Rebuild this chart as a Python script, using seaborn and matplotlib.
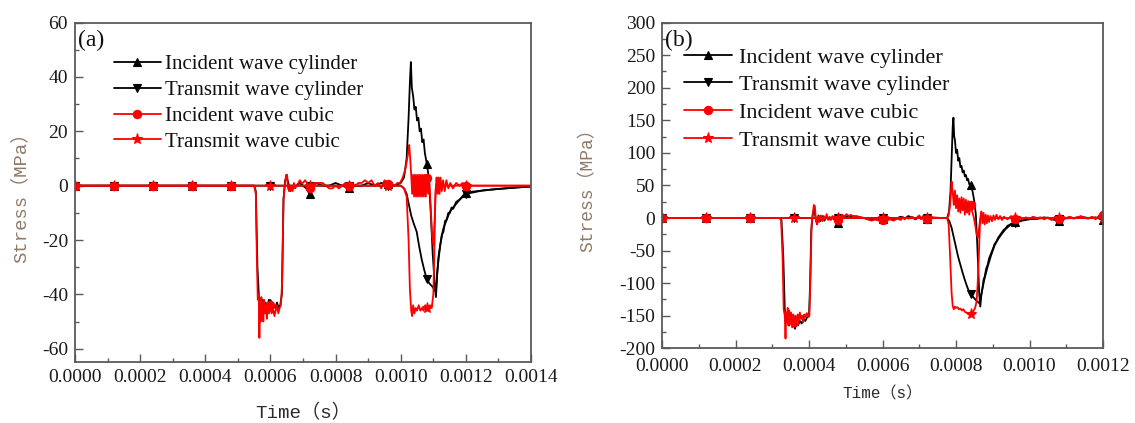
import numpy as np
import matplotlib
matplotlib.use("Agg")
import matplotlib.pyplot as plt
from matplotlib.ticker import MultipleLocator, FormatStrFormatter
import seaborn as sns

# ---------------- data: (time in microseconds, stress in MPa) ----------------
# Panel (a)
INC_CYL_A = [(0, 0), (120, 0), (240, 0), (360, 0), (480, 0), (550, 0), (555, -2), (560, -30),
             (565, -42), (570, -45), (575, -42), (580, -46), (585, -43), (590, -45), (595, -42),
             (600, -43), (605, -46), (610, -44), (615, -45), (620, -43), (625, -45), (630, -44),
             (635, -40), (640, -5), (645, 2), (650, 3), (655, 1), (660, -2), (670, -1), (680, 0),
             (690, 1), (700, 0), (710, -1), (720, -3), (730, 0), (740, 1), (760, 0), (780, 0),
             (800, 1), (820, 0), (840, -1), (860, 0), (880, 0), (900, 1), (920, 0), (940, 1),
             (960, 0.5), (980, 0), (1000, 1), (1010, 3), (1018, 10), (1024, 25), (1028, 38),
             (1031, 45.5), (1034, 36), (1038, 33), (1042, 28), (1046, 29), (1050, 24), (1054, 25),
             (1058, 20), (1062, 21), (1066, 16), (1070, 17), (1074, 12), (1080, 8), (1086, 3),
             (1092, -10), (1098, -25), (1104, -36), (1108, -41), (1112, -32), (1116, -26),
             (1121, -22), (1126, -18), (1131, -17), (1136, -13), (1141, -12.5), (1146, -10),
             (1151, -10), (1156, -8), (1161, -8.5), (1170, -6), (1182, -5), (1192, -3.5),
             (1200, -2.8), (1220, -2.2), (1250, -1.8), (1280, -1.4), (1320, -1), (1360, -0.6),
             (1400, -0.3)]

TRA_CYL_A = [(0, 0), (120, 0), (240, 0), (360, 0), (480, 0), (600, 0), (720, 0), (840, 0),
             (960, 0), (1000, 0), (1010, -1), (1018, -3), (1025, -7), (1032, -11), (1040, -14),
             (1049, -17), (1056, -22), (1064, -27), (1072, -31), (1080, -34.5), (1088, -36),
             (1096, -37), (1102, -38), (1108, -39), (1112, -32), (1116, -27), (1121, -22),
             (1130, -16), (1141, -12.5), (1151, -9.5), (1161, -8), (1182, -5), (1200, -3),
             (1250, -1.8), (1300, -1.2), (1400, -0.3)]

INC_CUB_A = [(0, 0), (120, 0), (240, 0), (360, 0), (480, 0), (550, 0), (555, -3), (558, -25),
             (561, -42), (564, -40), (566, -56), (568, -42), (570, -50), (572, -41), (574, -48),
             (576, -43), (578, -50), (580, -42), (583, -47), (586, -44), (589, -49), (592, -45),
             (596, -47), (600, -44), (604, -47), (608, -45), (612, -48), (616, -46), (620, -44),
             (624, -47), (628, -45), (632, -44), (636, -35), (640, -5), (645, 1), (648, 4),
             (651, 4), (654, -1), (657, -2), (660, -2), (664, 0), (668, -2), (672, 1), (676, -1),
             (680, 0), (686, 1), (690, 2), (696, 1), (700, 1), (706, 2), (712, 1), (720, -1),
             (726, 0), (732, 1), (740, 1), (750, 1), (760, 1), (770, 0), (780, -1), (790, -1),
             (800, 0), (810, -1), (820, 0), (830, 1), (840, 0), (850, 1), (860, 0), (870, 1),
             (880, 1), (890, 2), (900, 1), (910, 2), (920, 0), (930, 1), (940, -1), (950, 2),
             (960, 0.5), (970, 1), (980, 0), (990, 1), (998, 1), (1006, 3), (1014, 6),
             (1020, 10), (1024, 13), (1026, 15), (1029, 10), (1032, 4), (1035, -3), (1038, 4),
             (1041, -4), (1044, 4), (1047, -4), (1050, 4), (1053, -4), (1056, 4), (1059, -4),
             (1062, 4), (1065, -4), (1068, 4), (1071, -4), (1074, 4), (1077, -4), (1080, 3),
             (1084, -3), (1088, 1), (1092, -8), (1096, -18), (1100, -22), (1104, -12),
             (1107, -2), (1110, 3), (1113, -3), (1116, 3), (1119, -3), (1122, 3), (1126, -2),
             (1130, 2), (1135, -2), (1140, 2), (1146, -1), (1152, 1), (1160, -1), (1170, 1),
             (1180, 0), (1190, 1), (1200, 0), (1250, 0), (1300, 0), (1400, 0)]

TRA_CUB_A = [(0, 0), (120, 0), (240, 0), (360, 0), (480, 0), (600, 0), (720, 0), (840, 0),
             (960, 0), (1000, 0), (1010, -1), (1018, -4), (1024, -20), (1028, -38), (1032, -46),
             (1035, -48), (1038, -44), (1042, -47), (1046, -45), (1050, -46), (1055, -44),
             (1060, -46), (1065, -45), (1070, -46), (1075, -44), (1080, -45), (1085, -46),
             (1090, -44), (1095, -45), (1100, -40), (1103, -25), (1106, -5), (1108, 0),
             (1112, 1), (1120, 0), (1200, 0), (1400, 0)]

# Panel (b)
INC_CYL_B = [(0, 0), (120, 0), (240, 0), (320, 0), (325, -3), (330, -60), (334, -140),
             (338, -160), (342, -150), (346, -165), (350, -150), (354, -162), (358, -165),
             (362, -170), (366, -160), (370, -165), (375, -158), (380, -162), (385, -155),
             (390, -158), (395, -152), (400, -150), (403, -100), (406, -20), (410, 5), (414, 15),
             (418, 0), (422, -8), (426, 4), (430, -5), (436, 3), (442, -4), (448, 2), (455, -2),
             (462, 1), (470, -3), (476, -6), (480, -7), (486, -2), (492, 2), (500, 3), (510, 1),
             (520, 3), (530, 2), (540, 1), (550, 0), (560, -2), (570, -3), (580, -2), (590, -3),
             (600, -2), (610, -3), (620, -1), (630, -3), (640, 0), (650, 2), (660, -1), (670, 3),
             (680, 1), (690, -2), (700, 2), (710, -1), (720, -2), (730, 1), (740, 0), (760, 0),
             (776, 0), (781, 10), (785, 40), (788, 90), (791, 140), (793, 154), (795, 125),
             (797, 120), (800, 100), (803, 105), (806, 88), (809, 92), (812, 78), (815, 80),
             (818, 70), (821, 73), (824, 64), (827, 66), (830, 58), (833, 60), (836, 52),
             (840, 50), (843, 46), (846, 38), (850, 25), (854, 5), (857, -30), (860, -70),
             (863, -115), (866, -136), (869, -118), (872, -108), (875, -95), (878, -90),
             (882, -78), (886, -72), (890, -62), (895, -55), (900, -48), (905, -40), (910, -36),
             (915, -30), (920, -26), (925, -22), (930, -18), (935, -16), (940, -12), (950, -9),
             (960, -6), (970, -5), (980, -3), (990, -2), (1000, -1), (1010, 0), (1020, -1),
             (1030, 0), (1040, 1), (1050, 0), (1060, -2), (1070, -3), (1080, -5), (1090, -2),
             (1100, 0), (1110, 1), (1120, 0), (1140, 2), (1160, 0), (1180, 1), (1200, -3)]

TRA_CYL_B = [(0, 0), (120, 0), (240, 0), (360, 0), (480, 0), (600, 0), (720, 0), (776, 0),
             (782, -5), (788, -15), (794, -30), (800, -45), (806, -60), (812, -72), (818, -84),
             (824, -95), (830, -105), (835, -112), (840, -117), (848, -122), (854, -126),
             (860, -129), (864, -131), (868, -120), (872, -108), (878, -92), (886, -75),
             (895, -58), (905, -42), (915, -32), (925, -24), (935, -17), (945, -12), (960, -7),
             (980, -4), (1000, -2), (1040, 0), (1080, -1), (1120, 0), (1200, 0)]

INC_CUB_B = [(0, 0), (120, 0), (240, 0), (320, 0), (324, -3), (328, -60), (331, -140),
             (334, -150), (336, -185), (338, -145), (340, -160), (342, -138), (344, -165),
             (346, -142), (348, -160), (351, -145), (354, -168), (357, -148), (360, -160),
             (363, -150), (366, -162), (369, -148), (372, -158), (375, -145), (378, -155),
             (381, -150), (384, -160), (387, -148), (390, -152), (394, -146), (398, -152),
             (401, -150), (404, -90), (407, -10), (410, 5), (413, 20), (416, 18), (419, -5),
             (422, -10), (425, 2), (428, -6), (432, 4), (436, -5), (440, 3), (444, -2), (448, 6),
             (452, -3), (456, 2), (460, -3), (464, 3), (468, 0), (472, -2), (476, -5), (480, -3),
             (485, 2), (490, 5), (496, 2), (502, 6), (508, 3), (514, 5), (520, 2), (530, 3),
             (540, 1), (550, 0), (560, -2), (570, -4), (580, -2), (590, -4), (600, -3),
             (610, -4), (620, -2), (630, -4), (640, -1), (650, -3), (655, 2), (660, -2),
             (665, 1), (670, -1), (680, 2), (690, -1), (700, 4), (705, -2), (710, 3), (715, -3),
             (720, -2), (725, 2), (730, 0), (740, 1), (760, 0), (776, 0), (780, 4), (784, 20),
             (788, 56), (791, 40), (794, 20), (797, 42), (800, 15), (803, 35), (806, 10),
             (809, 30), (812, 8), (815, 32), (818, 12), (821, 30), (824, 5), (827, 28), (830, 8),
             (833, 26), (836, 5), (840, 20), (844, 10), (848, 2), (852, -10), (856, -25),
             (860, -30), (863, -15), (866, 0), (869, 10), (872, -8), (875, 8), (878, -10),
             (881, 5), (884, -8), (887, 4), (890, -6), (894, 3), (898, -5), (902, 4), (906, -3),
             (910, 5), (915, -2), (920, 3), (925, -3), (930, 2), (940, -2), (950, 3), (960, -1),
             (970, 2), (980, -2), (990, 1), (1000, -1), (1010, 2), (1020, 0), (1030, 1),
             (1040, -2), (1050, 1), (1060, -3), (1070, 2), (1080, -1), (1090, 1), (1100, 0),
             (1110, 2), (1120, -1), (1130, 1), (1140, 3), (1150, 0), (1160, -1), (1170, 2),
             (1180, -2), (1190, 4), (1200, 5)]

TRA_CUB_B = [(0, 0), (120, 0), (240, 0), (360, 0), (480, 0), (600, 0), (720, 0), (776, 0),
             (780, -10), (784, -60), (788, -115), (791, -135), (794, -140), (797, -136),
             (800, -138), (804, -137), (808, -140), (812, -139), (816, -142), (820, -140),
             (824, -144), (828, -145), (832, -147), (836, -148), (840, -148), (844, -146),
             (848, -142), (852, -138), (856, -128), (859, -100), (862, -60), (865, -10),
             (868, 0), (872, 2), (880, 0), (960, 0), (1080, 0), (1200, 0)]

SERIES_LABELS = ["Incident wave cylinder", "Transmit wave cylinder",
                 "Incident wave cubic", "Transmit wave cubic"]
SERIES_COLORS = ["#000000", "#000000", "#ff0000", "#ff0000"]
SERIES_MARKERS = ["^", "v", "o", "*"]
MARKER_STEP_US = 120  # symbol every 120 microseconds

# ---------------- style ----------------
sns.set_style("ticks")
plt.rcParams["font.family"] = ["Liberation Serif", "DejaVu Serif"]
plt.rcParams["mathtext.fontset"] = "stix"

LABEL_FONT = ["Liberation Mono", "Noto Sans CJK SC", "DejaVu Sans"]
TICK_COLOR = "#1a1a1a"
SPINE_COLOR = "#5a5a5a"


def draw_panel(ax, series, xmax_us, ylim, xmajor, xminor, ymajor, yminor,
               tag, legend_kw, tick_fs, ylabel_fs, xlabel_fs, ylab_xy, xlab_xy, xpad):
    for data, lab, col, mk in zip(series, SERIES_LABELS, SERIES_COLORS, SERIES_MARKERS):
        arr = np.array(data, dtype=float)
        t_us, stress = arr[:, 0], arr[:, 1]
        mark_idx = [i for i, tt in enumerate(t_us)
                    if tt % MARKER_STEP_US == 0 and tt <= 1200]
        sns.lineplot(x=t_us * 1e-6, y=stress, ax=ax, sort=False, estimator=None,
                     color=col, linewidth=1.3, marker=mk,
                     markersize=8 if mk == "*" else 6,
                     markeredgecolor=col, markerfacecolor=col, markeredgewidth=0.8,
                     markevery=mark_idx, label=lab, legend=False)

    ax.set_xlim(0, xmax_us * 1e-6)
    ax.set_ylim(*ylim)
    ax.xaxis.set_major_locator(MultipleLocator(xmajor))
    ax.xaxis.set_minor_locator(MultipleLocator(xminor))
    ax.yaxis.set_major_locator(MultipleLocator(ymajor))
    ax.yaxis.set_minor_locator(MultipleLocator(yminor))
    ax.xaxis.set_major_formatter(FormatStrFormatter("%.4f"))
    ax.yaxis.set_major_formatter(FormatStrFormatter("%d"))

    ax.tick_params(which="both", direction="in", top=False, right=False,
                   colors=SPINE_COLOR, labelcolor=TICK_COLOR, labelsize=tick_fs)
    ax.tick_params(which="major", length=6, width=1.0)
    ax.tick_params(which="minor", length=3, width=1.0)
    ax.tick_params(axis="y", which="major", pad=5)
    ax.tick_params(axis="x", which="major", pad=xpad)
    for sp in ax.spines.values():
        sp.set_visible(True)
        sp.set_color(SPINE_COLOR)
        sp.set_linewidth(1.3)

    ax.set_ylabel("Stress（MPa）", family=LABEL_FONT, fontsize=ylabel_fs, color="#8f7a66")
    ax.set_xlabel("Time（s）", family=LABEL_FONT, fontsize=xlabel_fs, color="#2b2b2b")
    ax.yaxis.label.set_verticalalignment("center")
    ax.xaxis.label.set_verticalalignment("center")
    ax.yaxis.set_label_coords(*ylab_xy)
    ax.xaxis.set_label_coords(*xlab_xy)

    ax.text(0.006, 0.978, tag, transform=ax.transAxes, ha="left", va="top",
            fontsize=17, color="#111111")

    leg = ax.legend(loc="upper left", frameon=False, numpoints=1,
                    borderpad=0, borderaxespad=0, **legend_kw)
    for txt in leg.get_texts():
        txt.set_color("#111111")


fig = plt.figure(figsize=(11.35, 4.23), dpi=100)
ax_a = fig.add_axes([0.0661, 0.1435, 0.4018, 0.803])
ax_b = fig.add_axes([0.5833, 0.1766, 0.3885, 0.770])

draw_panel(ax_a, [INC_CYL_A, TRA_CYL_A, INC_CUB_A, TRA_CUB_A], 1400, (-65, 60),
           0.0002, 0.0001, 20, 10, "(a)",
           dict(fontsize=15, bbox_to_anchor=(0.085, 0.906), handlelength=2.25,
                handletextpad=0.22, labelspacing=0.3),
           tick_fs=14, ylabel_fs=13.6, xlabel_fs=13.8,
           ylab_xy=(-0.12, 0.5), xlab_xy=(0.5, -0.149), xpad=5)

draw_panel(ax_b, [INC_CYL_B, TRA_CYL_B, INC_CUB_B, TRA_CUB_B], 1200, (-200, 300),
           0.0002, 0.0001, 50, 25, "(b)",
           dict(fontsize=16, bbox_to_anchor=(0.05, 0.925), handlelength=2.15,
                handletextpad=0.3, labelspacing=0.32),
           tick_fs=14, ylabel_fs=13, xlabel_fs=11.5,
           ylab_xy=(-0.168, 0.5), xlab_xy=(0.5, -0.14), xpad=7)

fig.savefig("out.png", dpi=100, facecolor="white")
